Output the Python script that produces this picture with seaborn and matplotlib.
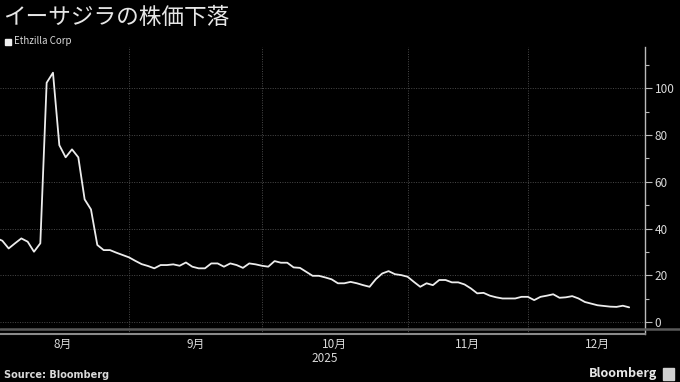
import numpy as np
import pandas as pd
import matplotlib
matplotlib.use("Agg")
import matplotlib.pyplot as plt
import matplotlib.ticker as mticker
from matplotlib.lines import Line2D
from matplotlib.patches import Rectangle
import seaborn as sns

# ---------------- data ----------------
title = "イーサジラの株価下落"
series_name = "Ethzilla Corp"
source = "Source: Bloomberg"
holidays = ["2025-09-01", "2025-11-27", "2025-12-25"]
month_labels = ["8月", "9月", "10月", "11月", "12月"]
year_label = "2025"

aug = [36.0, 34.8, 31.5, 33.7, 35.8, 34.4, 30.1, 33.7, 102.4, 106.7, 75.7,
       70.5, 73.9, 70.5, 52.5, 48.2, 33.0, 30.8, 30.8, 29.7, 28.7]
sep = [27.7, 26.2, 24.8, 24.0, 23.0, 24.4, 24.4, 24.7, 24.1, 25.5, 23.7,
       23.0, 23.0, 25.1, 25.1, 23.7, 25.1, 24.4, 23.2, 25.1, 24.7]
oct_ = [24.1, 23.7, 26.1, 25.4, 25.4, 23.4, 23.2, 21.5, 19.8, 19.8, 19.1,
        18.3, 16.6, 16.6, 17.2, 16.6, 15.8, 15.1, 18.4, 20.8, 21.8, 20.5, 20.1]
nov = [19.4, 17.2, 15.1, 16.6, 15.8, 18.0, 18.0, 17.0, 17.0, 16.1, 14.4,
       12.3, 12.5, 11.3, 10.6, 10.1, 10.1, 10.1, 10.8]
dec = [10.8, 9.4, 10.8, 11.3, 11.9, 10.4, 10.6, 11.1, 10.1, 8.6, 7.9,
       7.2, 6.9, 6.6, 6.5, 7.0, 6.3]
values = aug + sep + oct_ + nov + dec

# trading calendar (x axis is trading-day based)
cal = pd.bdate_range("2025-08-01", "2025-12-31")
cal = cal[~cal.isin(pd.to_datetime(holidays))]
dates = cal[:len(values)]
df = pd.DataFrame({"date": dates, "idx": np.arange(len(values)), "price": values})

# month boundaries / centres in trading-day index
month_start = [int(np.argmax(cal.month == m)) for m in range(8, 13)]
month_end = month_start[1:] + [len(cal)]
month_center = [(a + b) / 2 for a, b in zip(month_start, month_end)]

# ---------------- style ----------------
sns.set_style("dark")
plt.rcParams["font.family"] = ["Noto Sans CJK JP", "DejaVu Sans"]
BG = "#000000"
GRID = "#4a4a4a"
TXT = "#d9d9d9"

fig = plt.figure(figsize=(6.8, 3.82), dpi=100, facecolor=BG)
W, H = 680, 382
ax_left, ax_right, ax_top, ax_bot = 0, 645, 47, 334
ax = fig.add_axes([ax_left / W, 1 - ax_bot / H, (ax_right - ax_left) / W, (ax_bot - ax_top) / H])
ax.set_facecolor(BG)

sns.lineplot(data=df, x="idx", y="price", ax=ax, color="#ececec", linewidth=1.3, legend=False)

ax.set_xlim(0.632, 102.5)
ax.set_ylim(-5.1, 117.7)
ax.set_xlabel("")
ax.set_ylabel("")

# y axis on the right
ax.yaxis.tick_right()
ax.yaxis.set_minor_locator(mticker.MultipleLocator(10))
ax.set_yticks([0, 20, 40, 60, 80, 100])
ax.tick_params(axis="y", which="major", direction="out", length=5, width=0.8,
               color="#bbbbbb", labelcolor=TXT, labelsize=8.5, pad=2)
ax.tick_params(axis="y", which="minor", direction="out", length=3, width=0.8, color="#bbbbbb")

# x axis
ax.set_xticks(month_center)
ax.set_xticklabels(month_labels)
ax.set_xticks(month_start[1:], minor=True)
ax.tick_params(axis="x", which="major", length=0, labelcolor=TXT, labelsize=8.5, pad=3)
ax.tick_params(axis="x", which="minor", direction="out", length=4, width=0.8, color="#888888")

# grid
ax.grid(False)
for v in [0, 20, 40, 60, 80, 100]:
    ax.axhline(v, color=GRID, linestyle=(0, (1, 1.5)), linewidth=0.7, zorder=0)
for s in month_start[1:]:
    ax.axvline(s, color=GRID, linestyle=(0, (1, 1.5)), linewidth=0.7, zorder=0)

for side in ["top", "left"]:
    ax.spines[side].set_visible(False)
ax.spines["right"].set_color("#bbbbbb")
ax.spines["right"].set_linewidth(1.0)
ax.spines["bottom"].set_color("#8a8a8a")
ax.spines["bottom"].set_linewidth(1.5)

# darker band line above the bottom spine (full width)
fig.add_artist(Line2D([0, 1], [1 - 329 / H, 1 - 329 / H], color="#5a5a5a", linewidth=1.8))

# title, legend, year, source
fig.text(3 / W, 1 - 18 / H, title, color="#e6e6e6", fontsize=16.3, va="center", ha="left")
fig.add_artist(Rectangle((5 / W, 1 - 45 / H), 6 / W, 6 / H, color="#f0f0f0", transform=fig.transFigure))
fig.text(14 / W, 1 - 41.5 / H, series_name, color=TXT, fontsize=7, va="center", ha="left")
fig.text(325 / W, 1 - 359 / H, year_label, color=TXT, fontsize=8.5, va="center", ha="center")
fig.text(4 / W, 1 - 375 / H, source, color=TXT, fontsize=7, fontweight="bold",
         va="center", ha="left", family="DejaVu Sans")
fig.text(657 / W, 1 - 374 / H, "Bloomberg", color="#e6e6e6", fontsize=9, fontweight="bold",
         va="center", ha="right")
fig.add_artist(Rectangle((663 / W, 1 - 380 / H), 11 / W, 12 / H, color="#d0d0d0", transform=fig.transFigure))

fig.savefig("out.png", dpi=100, facecolor=BG)
